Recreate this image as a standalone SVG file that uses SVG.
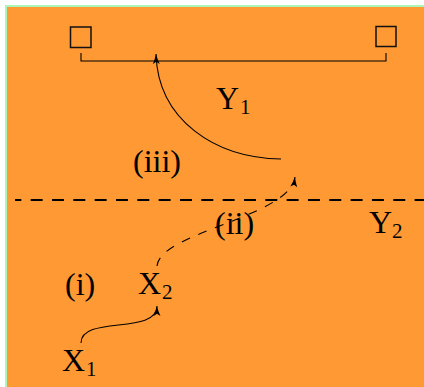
<svg xmlns="http://www.w3.org/2000/svg" width="424" height="387" viewBox="0 0 424 387">
  <defs>
    <style>
      .lbl { font-family: "Liberation Serif", "DejaVu Serif", serif; font-size: 32px; fill: #000; }
      .sub { font-size: 21px; }
      .box { fill: none; stroke: #111; stroke-width: 1.5; }
      .conn { fill: none; stroke: #000; stroke-width: 1.1; }
      .dash { stroke-dasharray: 9 9; }
      .boundary { fill: none; stroke: #000; stroke-width: 2; stroke-dasharray: 12 9.33; stroke-dashoffset: 5.67; }
    </style>
    <marker id="arr" markerUnits="userSpaceOnUse" markerWidth="11" markerHeight="8" refX="10" refY="3.75" orient="auto">
      <path d="M0,0.3 Q5,2.6 10,3.75 Q5,4.9 0,7.2 L2.2,3.75 Z" fill="#000"/>
    </marker>
  </defs>

  <rect x="6" y="6" width="420" height="390" fill="#ff9933" stroke="#aaf7b8" stroke-width="2"/>

  <g id="connectors">
    <line class="boundary" x1="15" y1="200" x2="424" y2="200"/>
    <path id="bracket" class="conn" d="M81,53 V61 H386 V53" stroke-width="1.3"/>
    <path class="conn" d="M281,159 C215,158 158,120 156,54" marker-end="url(#arr)"/>
    <path class="conn dash" d="M157,266 C160,232 290,217 295,177" marker-end="url(#arr)"/>
    <path class="conn" d="M81,343 C81,315 157,335 157,306" marker-end="url(#arr)"/>
  </g>

  <g id="box-left"><rect class="box" x="70.5" y="27" width="20.5" height="20.5"/></g>
  <g id="box-right"><rect class="box" x="376" y="26.5" width="20" height="20"/></g>

  <g id="Y1"><text class="lbl" x="216" y="109">Y<tspan class="sub" x="240" y="114">1</tspan></text></g>
  <g id="Y2"><text class="lbl" x="369" y="233">Y<tspan class="sub" x="392" y="238">2</tspan></text></g>
  <g id="X2"><text class="lbl" x="138" y="294">X<tspan class="sub" x="162" y="299">2</tspan></text></g>
  <g id="X1"><text class="lbl" x="62" y="371">X<tspan class="sub" x="86" y="376">1</tspan></text></g>

  <g id="label-iii"><text class="lbl" x="133" y="172">(iii)</text></g>
  <g id="label-ii"><text class="lbl" x="215" y="234">(ii)</text></g>
  <g id="label-i"><text class="lbl" x="65" y="295">(i)</text></g>
</svg>
